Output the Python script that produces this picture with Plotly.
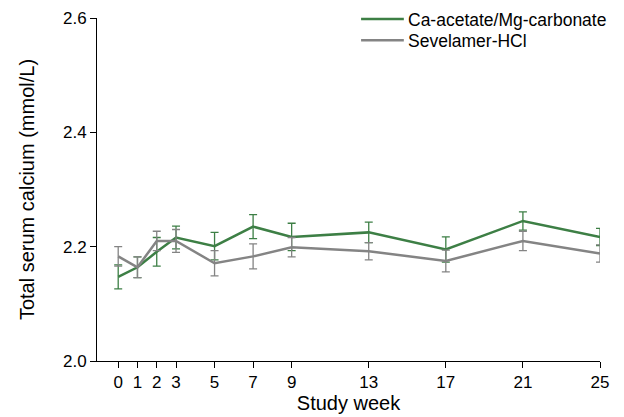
import plotly.graph_objects as go

weeks = [0, 1, 2, 3, 5, 7, 9, 13, 17, 21, 25]
ca_mean = [2.147, 2.164, 2.191, 2.216, 2.201, 2.235, 2.217, 2.225, 2.195, 2.245, 2.217]
ca_err = [0.021, 0.018, 0.025, 0.020, 0.024, 0.021, 0.024, 0.018, 0.022, 0.016, 0.015]
sev_mean = [2.183, 2.164, 2.210, 2.210, 2.171, 2.183, 2.199, 2.192, 2.175, 2.210, 2.188]
sev_err = [0.017, 0.018, 0.017, 0.020, 0.022, 0.022, 0.017, 0.015, 0.019, 0.017, 0.015]
series_names = ["Ca-acetate/Mg-carbonate", "Sevelamer-HCl"]
x_ticks = [0, 1, 2, 3, 5, 7, 9, 13, 17, 21, 25]
y_ticks = [2.0, 2.2, 2.4, 2.6]

GREEN = "#3d7f45"
GRAY = "#848484"
FONT = "Liberation Sans, Arial, sans-serif"

fig = go.Figure()
fig.add_trace(go.Scatter(
    x=weeks, y=ca_mean, mode="lines", name=series_names[0],
    line=dict(color=GREEN, width=2.5),
    error_y=dict(type="data", array=ca_err, visible=True, color=GREEN, thickness=1.3, width=4),
))
fig.add_trace(go.Scatter(
    x=weeks, y=sev_mean, mode="lines", name=series_names[1],
    line=dict(color=GRAY, width=2.5),
    error_y=dict(type="data", array=sev_err, visible=True, color=GRAY, thickness=1.3, width=4),
))

# manual legend (paper coordinates)
legend_y = [0.997, 0.935]
for name, col, ly in zip(series_names, [GREEN, GRAY], legend_y):
    fig.add_shape(type="line", xref="paper", yref="paper", x0=0.525, x1=0.610, y0=ly, y1=ly,
                  line=dict(color=col, width=2.5))
    fig.add_annotation(xref="paper", yref="paper", x=0.616, y=ly, yshift=-1, text=name,
                       showarrow=False, xanchor="left", yanchor="middle", borderpad=0,
                       font=dict(size=17.5, color="black"))

# page body has an 8px margin, so the figure is shrunk and shifted accordingly
fig.update_layout(
    width=616, height=409,
    margin=dict(l=89, r=24, t=10, b=56),
    paper_bgcolor="white", plot_bgcolor="white",
    font=dict(family=FONT, size=17, color="black"),
    showlegend=False,
    xaxis=dict(range=[-1.1, 25], tickvals=x_ticks, ticktext=[str(v) for v in x_ticks],
               showline=True, linecolor="black", linewidth=1, ticks="outside", ticklen=6,
               tickcolor="black", showgrid=False, zeroline=False, automargin=False,
               tickfont=dict(size=17),
               title=dict(text="Study week", font=dict(size=20), standoff=2)),
    yaxis=dict(range=[2.0, 2.6], tickvals=y_ticks, ticktext=["%.1f" % v for v in y_ticks],
               showline=True, linecolor="black", linewidth=1, ticks="outside", ticklen=6,
               tickcolor="black", showgrid=False, zeroline=False, automargin=False,
               tickfont=dict(size=17),
               title=dict(text="Total serum calcium (mmol/L)", font=dict(size=20), standoff=22)),
)

fig.write_html("out.html")
